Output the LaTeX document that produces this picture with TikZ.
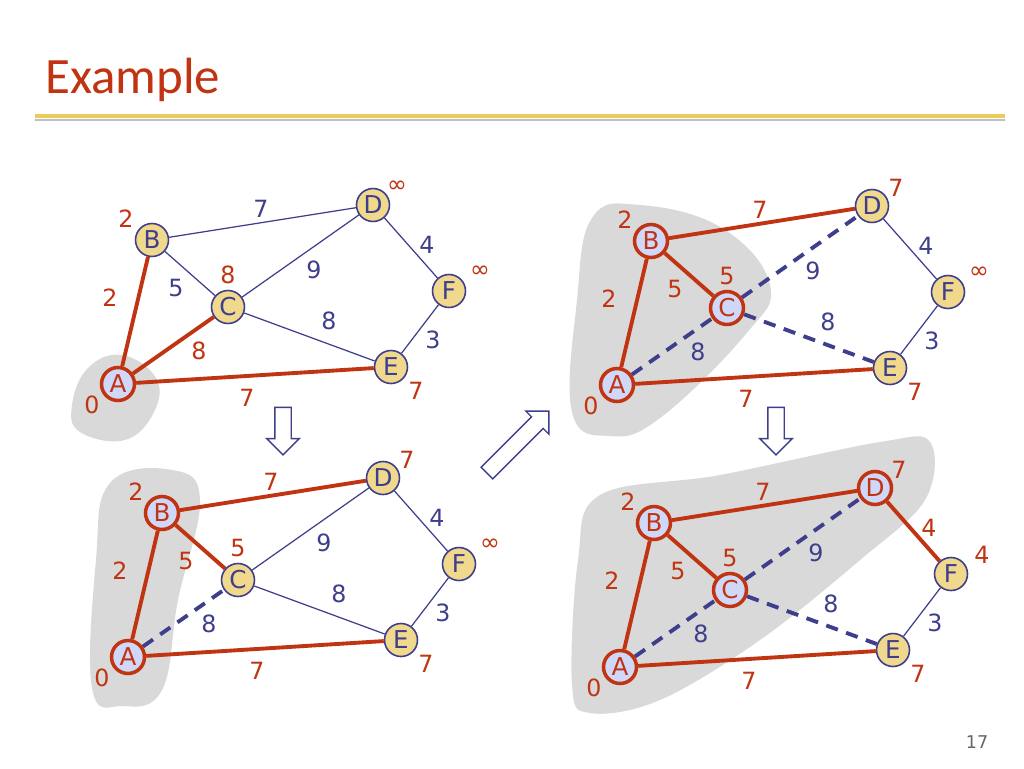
\documentclass[tikz,border=0pt]{standalone}
\usepackage{fontspec}
\setmainfont{DejaVu Sans}
\newfontfamily\titlefont{Carlito}
\usetikzlibrary{shapes.arrows}
\definecolor{rd}{RGB}{192,52,18}
\definecolor{bl}{RGB}{62,62,140}
\definecolor{yl}{RGB}{240,216,140}
\definecolor{lv}{RGB}{208,216,250}
\definecolor{blob}{RGB}{217,217,217}
\tikzset{
 unv/.style={circle,draw=bl,line width=0.9pt,fill=yl,minimum size=0.66cm,inner sep=0pt,text=bl,font=\fontsize{14}{14}\selectfont},
 vis/.style={circle,draw=rd,line width=2pt,fill=lv,minimum size=0.66cm,inner sep=0pt,text=rd,font=\fontsize{14}{14}\selectfont},
 thin/.style={draw=bl,line width=0.7pt},
 tree/.style={draw=rd,line width=2.2pt},
 dashedge/.style={draw=bl,line width=2.2pt,dash pattern=on 7pt off 5pt},
 redlab/.style={text=rd,font=\fontsize{13.5}{14}\selectfont,inner sep=0pt},
 bluelab/.style={text=bl,font=\fontsize{13.5}{14}\selectfont,inner sep=0pt},
 bigarrow/.style={single arrow,draw=bl,fill=white,line width=0.8pt,minimum height=0.95cm,inner sep=0.15cm,single arrow head extend=0.16cm,single arrow head indent=0pt},
}
\newcommand\placenodes[7]{
 \node[#2] (A#1) at (118,384) {A};
 \node[#3] (B#1) at (152,240) {B};
 \node[#4] (C#1) at (228,307) {C};
 \node[#5] (D#1) at (373,205) {D};
 \node[#6] (E#1) at (391,367) {E};
 \node[#7] (F#1) at (449,291) {F};}
\begin{document}
\begin{tikzpicture}[x=0.02cm,y=-0.02cm]
\useasboundingbox (0,0) rectangle (1024,768);
\fill[white] (0,0) rectangle (1024,768);
\node[anchor=west,text=rd,font=\titlefont\fontsize{29}{30}\selectfont,inner sep=0pt] (title) at (45,80) {Example};
\coordinate (ul1) at (35,116); \coordinate (ul2) at (1005,116);
\draw[black!25,line width=1.2pt] ([yshift=-2.5pt]ul1) -- ([yshift=-2.5pt]ul2);
\draw[color={rgb,255:red,232;green,205;blue,90},line width=2.2pt] (ul1) -- (ul2);
\node[text=black!60,font=\fontsize{10}{11}\selectfont] (pg) at (977,742) {17};
% blobs
\fill[blob] plot[smooth cycle,tension=0.7] coordinates {(88,368) (122,355) (156,378) (154,412) (125,440) (80,432) (72,405)};
\fill[blob] plot[smooth cycle,tension=0.7] coordinates {(110,483) (172,470) (200,500) (178,600) (162,690) (122,706) (92,688) (96,560)};
\fill[blob] plot[smooth cycle,tension=0.7] coordinates {(592,218) (640,205) (722,228) (770,285) (745,335) (660,418) (610,436) (572,412) (577,300)};
\fill[blob] plot[smooth cycle,tension=0.6] coordinates {(600,495) (720,475) (880,442) (930,442) (925,500) (860,560) (760,640) (660,700) (590,713) (572,685) (578,560)};
% arrows
\node[bigarrow,rotate=-90] (ar1) at (283,427) {};
\node[bigarrow,rotate=-90] (ar2) at (776,427) {};
\node[bigarrow,rotate=45,minimum height=1.75cm] (ar3) at (515,445) {};
% ---------- graph 1
\begin{scope}
\placenodes{1}{vis}{unv}{unv}{unv}{unv}{unv}
\draw[tree] (A1)--(B1); \draw[tree] (A1)--(C1); \draw[tree] (A1)--(E1);
\draw[thin] (B1)--(D1); \draw[thin] (B1)--(C1); \draw[thin] (C1)--(D1);
\draw[thin] (C1)--(E1); \draw[thin] (D1)--(F1); \draw[thin] (E1)--(F1);
\node[redlab] (l1a) at (126,219) {2}; \node[redlab] (l1b) at (228,275) {8};
\node[redlab] (l1c) at (397,187) {∞}; \node[redlab] (l1d) at (480,272) {∞};
\node[redlab] (l1e) at (416,391) {7}; \node[redlab] (l1f) at (92,405) {0};
\node[bluelab] (w1a) at (261,209) {7}; \node[bluelab] (w1b) at (427,245) {4};
\node[bluelab] (w1c) at (314,270) {9}; \node[bluelab] (w1d) at (176,288) {5};
\node[redlab] (w1e) at (110,298) {2}; \node[bluelab] (w1f) at (329,321) {8};
\node[bluelab] (w1g) at (433,340) {3}; \node[redlab] (w1h) at (199,351) {8};
\node[redlab] (w1i) at (247,398) {7};
\end{scope}
% ---------- graph 2
\begin{scope}[shift={(10,273)}]
\placenodes{2}{vis}{vis}{unv}{unv}{unv}{unv}
\draw[tree] (A2)--(B2); \draw[dashedge] (A2)--(C2); \draw[tree] (A2)--(E2);
\draw[tree] (B2)--(D2); \draw[tree] (B2)--(C2); \draw[thin] (C2)--(D2);
\draw[thin] (C2)--(E2); \draw[thin] (D2)--(F2); \draw[thin] (E2)--(F2);
\node[redlab] (l2a) at (126,219) {2}; \node[redlab] (l2b) at (228,275) {5};
\node[redlab] (l2c) at (397,187) {7}; \node[redlab] (l2d) at (480,272) {∞};
\node[redlab] (l2e) at (416,391) {7}; \node[redlab] (l2f) at (92,405) {0};
\node[redlab] (w2a) at (261,209) {7}; \node[bluelab] (w2b) at (427,245) {4};
\node[bluelab] (w2c) at (314,270) {9}; \node[redlab] (w2d) at (176,288) {5};
\node[redlab] (w2e) at (110,298) {2}; \node[bluelab] (w2f) at (329,321) {8};
\node[bluelab] (w2g) at (433,340) {3}; \node[bluelab] (w2h) at (199,351) {8};
\node[redlab] (w2i) at (247,398) {7};
\end{scope}
% ---------- graph 3
\begin{scope}[shift={(499,1)}]
\placenodes{3}{vis}{vis}{vis}{unv}{unv}{unv}
\draw[tree] (A3)--(B3); \draw[dashedge] (A3)--(C3); \draw[tree] (A3)--(E3);
\draw[tree] (B3)--(D3); \draw[tree] (B3)--(C3); \draw[dashedge] (C3)--(D3);
\draw[dashedge] (C3)--(E3); \draw[thin] (D3)--(F3); \draw[thin] (E3)--(F3);
\node[redlab] (l3a) at (126,219) {2}; \node[redlab] (l3b) at (228,275) {5};
\node[redlab] (l3c) at (397,187) {7}; \node[redlab] (l3d) at (480,272) {∞};
\node[redlab] (l3e) at (416,391) {7}; \node[redlab] (l3f) at (92,405) {0};
\node[redlab] (w3a) at (261,209) {7}; \node[bluelab] (w3b) at (427,245) {4};
\node[bluelab] (w3c) at (314,270) {9}; \node[redlab] (w3d) at (176,288) {5};
\node[redlab] (w3e) at (110,298) {2}; \node[bluelab] (w3f) at (329,321) {8};
\node[bluelab] (w3g) at (433,340) {3}; \node[bluelab] (w3h) at (199,351) {8};
\node[redlab] (w3i) at (247,398) {7};
\end{scope}
% ---------- graph 4
\begin{scope}[shift={(502,283)}]
\placenodes{4}{vis}{vis}{vis}{vis}{unv}{unv}
\draw[tree] (A4)--(B4); \draw[dashedge] (A4)--(C4); \draw[tree] (A4)--(E4);
\draw[tree] (B4)--(D4); \draw[tree] (B4)--(C4); \draw[dashedge] (C4)--(D4);
\draw[dashedge] (C4)--(E4); \draw[tree] (D4)--(F4); \draw[thin] (E4)--(F4);
\node[redlab] (l4a) at (126,219) {2}; \node[redlab] (l4b) at (228,275) {5};
\node[redlab] (l4c) at (397,187) {7}; \node[redlab] (l4d) at (480,272) {4};
\node[redlab] (l4e) at (416,391) {7}; \node[redlab] (l4f) at (92,405) {0};
\node[redlab] (w4a) at (261,209) {7}; \node[redlab] (w4b) at (427,245) {4};
\node[bluelab] (w4c) at (314,270) {9}; \node[redlab] (w4d) at (176,288) {5};
\node[redlab] (w4e) at (110,298) {2}; \node[bluelab] (w4f) at (329,321) {8};
\node[bluelab] (w4g) at (433,340) {3}; \node[bluelab] (w4h) at (199,351) {8};
\node[redlab] (w4i) at (247,398) {7};
\end{scope}
\end{tikzpicture}
\end{document}
